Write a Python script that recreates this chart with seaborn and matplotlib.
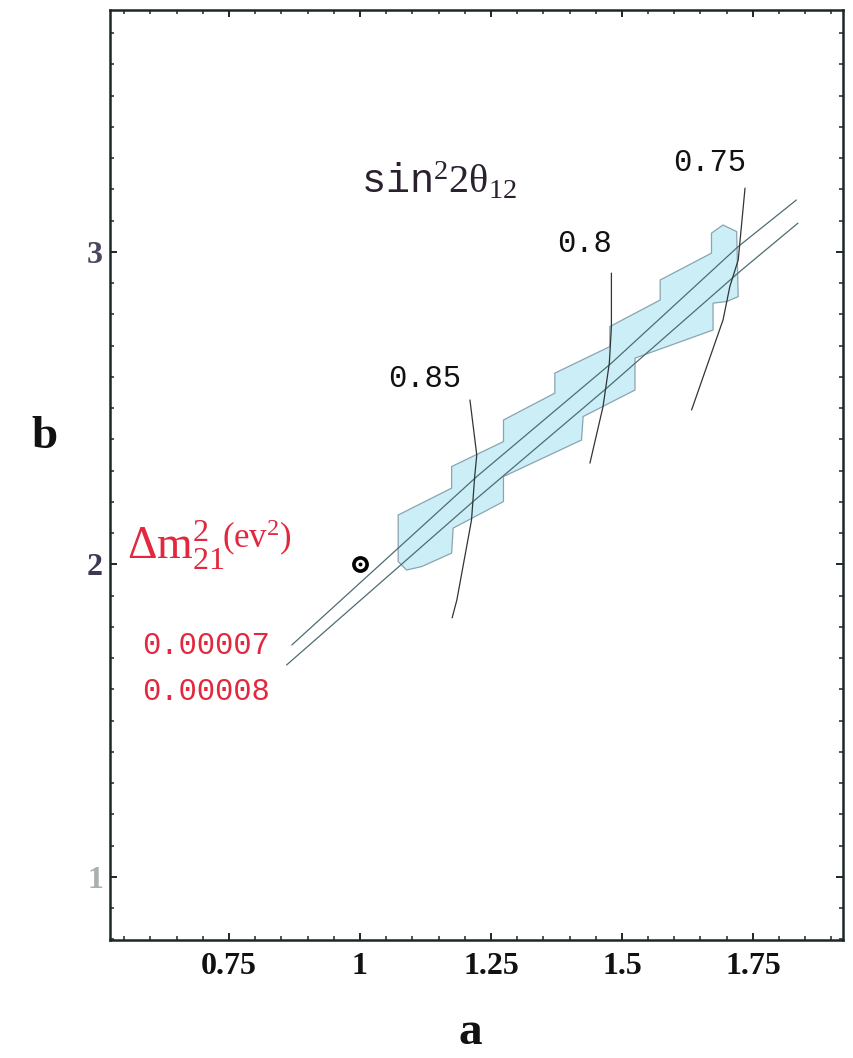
import numpy as np
import pandas as pd
import matplotlib
matplotlib.use("Agg")
import matplotlib.pyplot as plt
from matplotlib.ticker import MultipleLocator, FixedLocator, FixedFormatter
import seaborn as sns

# ---- data -------------------------------------------------------------
# allowed region in the (a, b) plane (outline of the shaded band)
region_a = [1.073, 1.073, 1.130, 1.175, 1.175, 1.274, 1.274, 1.372, 1.372,
            1.477, 1.477, 1.573, 1.573, 1.671, 1.671, 1.693, 1.719, 1.722,
            1.700, 1.674, 1.674, 1.525, 1.525, 1.426, 1.423, 1.274, 1.274,
            1.178, 1.175, 1.118, 1.089, 1.073]
region_b = [2.014, 2.158, 2.206, 2.244, 2.313, 2.393, 2.462, 2.548, 2.612,
            2.697, 2.761, 2.846, 2.910, 2.996, 3.060, 3.086, 3.065, 2.857,
            2.841, 2.836, 2.750, 2.660, 2.558, 2.473, 2.398, 2.281, 2.201,
            2.116, 2.036, 1.993, 1.982, 2.009]

# Delta m^2_21 contours
dm2_labels = ["0.00007", "0.00008"]
dm2_07_a = [0.870, 1.223, 1.480, 1.722, 1.833]
dm2_07_b = [1.742, 2.281, 2.644, 3.017, 3.166]
dm2_08_a = [0.860, 1.216, 1.471, 1.725, 1.836]
dm2_08_b = [1.678, 2.201, 2.564, 2.937, 3.092]

# sin^2 2theta_12 contours
s085_a = [1.210, 1.223, 1.219, 1.213, 1.185, 1.176]
s085_b = [2.526, 2.350, 2.280, 2.142, 1.886, 1.829]
s080_a = [1.480, 1.480, 1.476, 1.464, 1.439]
s080_b = [2.932, 2.761, 2.644, 2.505, 2.324]
s075_a = [1.735, 1.722, 1.706, 1.693, 1.633]
s075_b = [3.204, 2.974, 2.889, 2.782, 2.494]
sin_labels = ["0.85", "0.8", "0.75"]
sin_label_pos = [(1.124, 2.593), (1.429, 3.026), (1.668, 3.285)]

# reference point
point_a = [1.0]
point_b = [2.0]

x_major = [0.75, 1.0, 1.25, 1.5, 1.75]
x_major_labels = ["0.75", "1", "1.25", "1.5", "1.75"]
y_major = [1, 2, 3]
y_major_labels = ["1", "2", "3"]
y_label_colors = ["#a9b1b0", "#3c3a52", "#4a4660"]

# ---- figure -----------------------------------------------------------
sns.set_theme(style="white")
plt.rcParams["font.family"] = ["Liberation Serif", "DejaVu Serif"]
plt.rcParams["mathtext.fontset"] = "custom"
plt.rcParams["mathtext.rm"] = "Liberation Serif"
plt.rcParams["mathtext.it"] = "Liberation Serif:italic"
plt.rcParams["mathtext.bf"] = "Liberation Serif:bold"
plt.rcParams["mathtext.tt"] = "Liberation Mono"

fig = plt.figure(figsize=(8.54, 10.58), dpi=100)
ax = fig.add_axes([110 / 854, 1 - 940 / 1058, (843 - 110) / 854, (940 - 10) / 1058])
ax.set_xlim(0.523, 1.922)
ax.set_ylim(0.798, 3.774)

frame = "#1c2828"
for s in ax.spines.values():
    s.set_color(frame)
    s.set_linewidth(1.8)

# shaded band
ax.fill(region_a, region_b, facecolor="#cbeef7", edgecolor="#8aa4b0",
        linewidth=0.9, zorder=1)

line_col = "#4f6c72"
def curve(xs, ys, **kw):
    df = pd.DataFrame({"a": xs, "b": ys})
    sns.lineplot(data=df, x="a", y="b", sort=False, estimator=None, ax=ax,
                 **kw)

curve(dm2_07_a, dm2_07_b, color=line_col, linewidth=0.9, zorder=2)
curve(dm2_08_a, dm2_08_b, color=line_col, linewidth=0.9, zorder=2)
for xs, ys in [(s085_a, s085_b), (s080_a, s080_b), (s075_a, s075_b)]:
    curve(xs, ys, color="#2e3636", linewidth=0.9, zorder=3)

# reference point
sns.scatterplot(x=point_a, y=point_b, ax=ax, s=90, marker="o",
                facecolor="white", edgecolor="black", linewidth=2.6, zorder=5)
sns.scatterplot(x=point_a, y=point_b, ax=ax, s=8, marker="o",
                color="black", linewidth=0, zorder=6)

# contour labels
mono = ["Liberation Mono", "DejaVu Sans Mono"]
for lab, (xa, yb) in zip(sin_labels, sin_label_pos):
    ax.text(xa, yb, lab, family=mono, fontsize=22, color="#111111",
            ha="center", va="center")

ax.text(1.003, 3.225, r"$\mathtt{sin}^{2}2\mathrm{\theta}_{12}$",
        fontsize=29, color="#2a2030", ha="left", va="center")

red = "#e2283e"
ax.text(0.555, 2.06, r"$\Delta\mathrm{m}^{2}_{21}$", fontsize=33, color=red,
        ha="left", va="center")
ax.text(0.737, 2.085, r"$\mathrm{(ev}^{2}\mathrm{)}$", fontsize=25, color=red,
        ha="left", va="center")
ax.text(0.584, 1.74, dm2_labels[0], family=mono, fontsize=22, color=red,
        ha="left", va="center")
ax.text(0.584, 1.59, dm2_labels[1], family=mono, fontsize=22, color=red,
        ha="left", va="center")

# ticks
ax.xaxis.set_major_locator(FixedLocator(x_major))
ax.xaxis.set_major_formatter(FixedFormatter(x_major_labels))
ax.xaxis.set_minor_locator(MultipleLocator(0.05))
ax.yaxis.set_major_locator(FixedLocator(y_major))
ax.yaxis.set_major_formatter(FixedFormatter(y_major_labels))
ax.yaxis.set_minor_locator(MultipleLocator(0.1))
ax.tick_params(which="both", direction="in", top=True, right=True,
               bottom=True, left=True, color=frame)
ax.tick_params(which="major", length=5, width=1.4)
ax.tick_params(which="minor", length=3, width=1.1)
ax.tick_params(axis="x", which="major", pad=9, labelsize=23)
ax.tick_params(axis="y", which="major", pad=5, labelsize=23)
for t in ax.get_xticklabels():
    t.set_fontweight("bold")
    t.set_color("#111111")
for t, c in zip(ax.get_yticklabels(), y_label_colors):
    t.set_fontweight("bold")
    t.set_color(c)

ax.set_xlabel("a", fontsize=34, fontweight="bold", color="#111111")
ax.set_ylabel("b", fontsize=34, fontweight="bold", rotation=0,
              va="center", ha="center", color="#111111")
ax.xaxis.set_label_coords(0.491, -0.0774)
ax.yaxis.set_label_coords(-0.0887, 0.541)
ax.grid(False)

fig.savefig("out.png", dpi=100, facecolor="white")
